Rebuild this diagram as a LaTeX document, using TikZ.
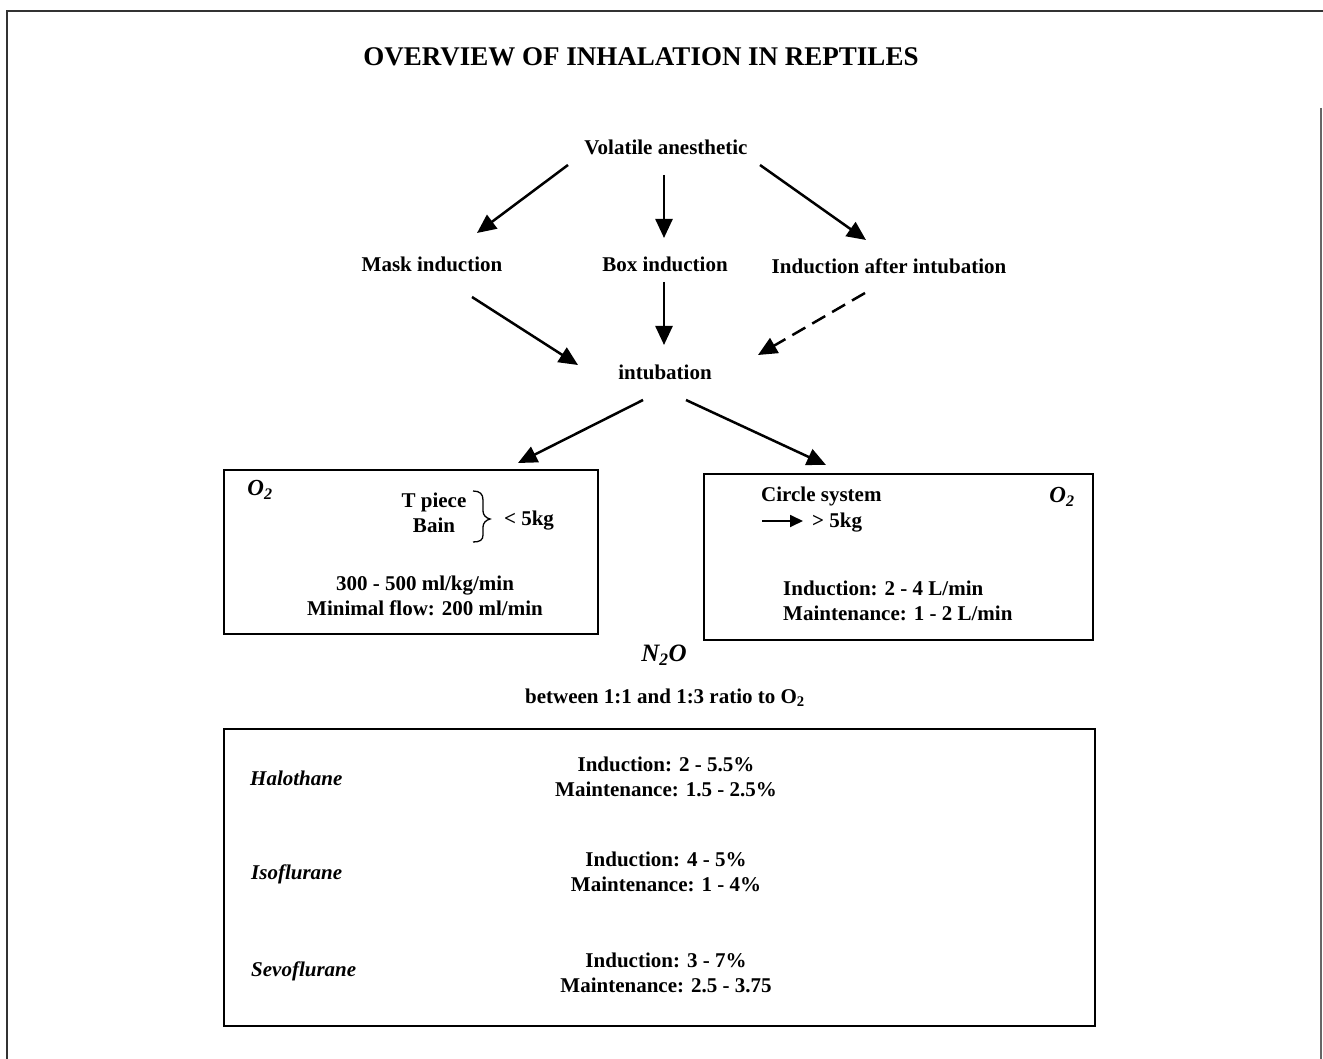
\documentclass[tikz,border=0pt]{standalone}
\usepackage{fontspec}
\setmainfont{Liberation Serif}
\usetikzlibrary{arrows.meta}
\begin{document}
\begin{tikzpicture}[x=1pt,y=-1pt,
  lbl/.style={font=\fontsize{21}{24}\selectfont\bfseries, inner sep=0pt},
  ilbl/.style={font=\fontsize{21}{24}\selectfont\bfseries\itshape, inner sep=0pt},
  arr/.style={line width=2.5pt, -{Triangle[length=19pt,width=17pt]}},
  frame/.style={draw, line width=1.5pt, inner sep=0pt, outer sep=0pt},
  twoline/.style={lbl, align=center, font=\fontsize{21}{25}\selectfont\bfseries}]
\useasboundingbox (0,0) rectangle (1323,1059);
% outer frame
\draw[line width=1.5pt, black!80] (7,1059) -- (7,11) -- (1323,11);
\draw[line width=1.5pt, black!60] (1321,108) -- (1321,1059);
% title
\node[font=\fontsize{27}{30}\selectfont\bfseries, inner sep=0pt] (title) at (641,57) {OVERVIEW OF INHALATION IN REPTILES};
% flow nodes
\node[lbl] (vol) at (666,147) {Volatile anesthetic};
\node[lbl] (mask) at (432,264) {Mask induction};
\node[lbl] (box) at (665,264) {Box induction};
\node[lbl] (iai) at (889,266) {Induction after intubation};
\node[lbl] (intub) at (665,372) {intubation};
% boxes
\node[frame, minimum width=374pt, minimum height=164pt] (lbox) at (411,552) {};
\node[frame, minimum width=389pt, minimum height=166pt] (rbox) at (898.5,557) {};
\node[frame, minimum width=871pt, minimum height=297pt] (bbox) at (659.5,877.5) {};
% arrows
\draw[arr] ([shift={(-98,18)}]vol.center) -- ([shift={(45,-31)}]mask.center);
\draw[arr] ([shift={(-2,28)}]vol.center) -- ([shift={(-1,-26)}]box.center);
\draw[arr] ([shift={(94,18)}]vol.center) -- ([shift={(-23,-26)}]iai.center);
\draw[arr] ([shift={(40,33)}]mask.center) -- ([shift={(-87,-7)}]intub.center);
\draw[arr] ([shift={(-1,18)}]box.center) -- ([shift={(-1,-27)}]intub.center);
\draw[arr, dash pattern=on 15pt off 8pt] ([shift={(-24,27)}]iai.center) -- ([shift={(93,-17)}]intub.center);
\draw[arr] ([shift={(-22,28)}]intub.center) -- ([shift={(107,-89)}]lbox.center);
\draw[arr] ([shift={(21,28)}]intub.center) -- ([shift={(-72.5,-92)}]rbox.center);
% left box content
\node[ilbl, font=\fontsize{23}{26}\selectfont\bfseries\itshape] (lo2) at (260,490) {O\textsubscript{2}};
\node[twoline, font=\fontsize{21}{25}\selectfont\bfseries] (tpiece) at (434,513) {T piece\\Bain};
\draw[line width=1.3pt] (473,491) .. controls (480,491) and (483,494) .. (483,500)
  -- (483,511) .. controls (483,515) and (486,518) .. (490,519)
  .. controls (486,520) and (483,523) .. (483,527) -- (483,535)
  .. controls (483,540) and (480,542) .. (473,542);
\node[lbl] (lt5) at (529,521) {< 5kg};
\node[twoline] (lflow) at (425,596) {300 - 500 ml/kg/min\\Minimal flow: 200 ml/min};
% right box content
\node[lbl, anchor=west] (circ) at (761,496) {Circle system};
\node[lbl, anchor=west] (gt5) at (812,523) {> 5kg};
\coordinate (sarrs) at (762,521);
\draw[line width=1.8pt, -{Triangle[length=13pt,width=12pt]}, shorten >=9pt] (sarrs) -- (sarrs -| gt5.west);
\node[ilbl, font=\fontsize{23}{26}\selectfont\bfseries\itshape] (ro2) at (1062,497) {O\textsubscript{2}};
\node[lbl, align=left, anchor=west, font=\fontsize{21}{25}\selectfont\bfseries] (rflow) at (783,601) {Induction: 2 - 4 L/min\\Maintenance: 1 - 2 L/min};
% N2O
\node[ilbl, font=\fontsize{25}{28}\selectfont\bfseries\itshape] (n2o) at (664,655) {N\textsubscript{2}O};
\node[lbl] (ratio) at (665,698) {between 1:1 and 1:3 ratio to O\textsubscript{2}};
% bottom box content
\node[ilbl, anchor=west] (halo) at (250,778) {Halothane};
\node[twoline] (halov) at (666,777) {Induction: 2 - 5.5\%\\Maintenance: 1.5 - 2.5\%};
\node[ilbl, anchor=west] (iso) at (251,874) {Isoflurane};
\node[twoline] (isov) at (666,872) {Induction: 4 - 5\%\\Maintenance: 1 - 4\%};
\node[ilbl, anchor=west] (sevo) at (251,971) {Sevoflurane};
\node[twoline] (sevov) at (666,973) {Induction: 3 - 7\%\\Maintenance: 2.5 - 3.75};
\end{tikzpicture}
\end{document}
